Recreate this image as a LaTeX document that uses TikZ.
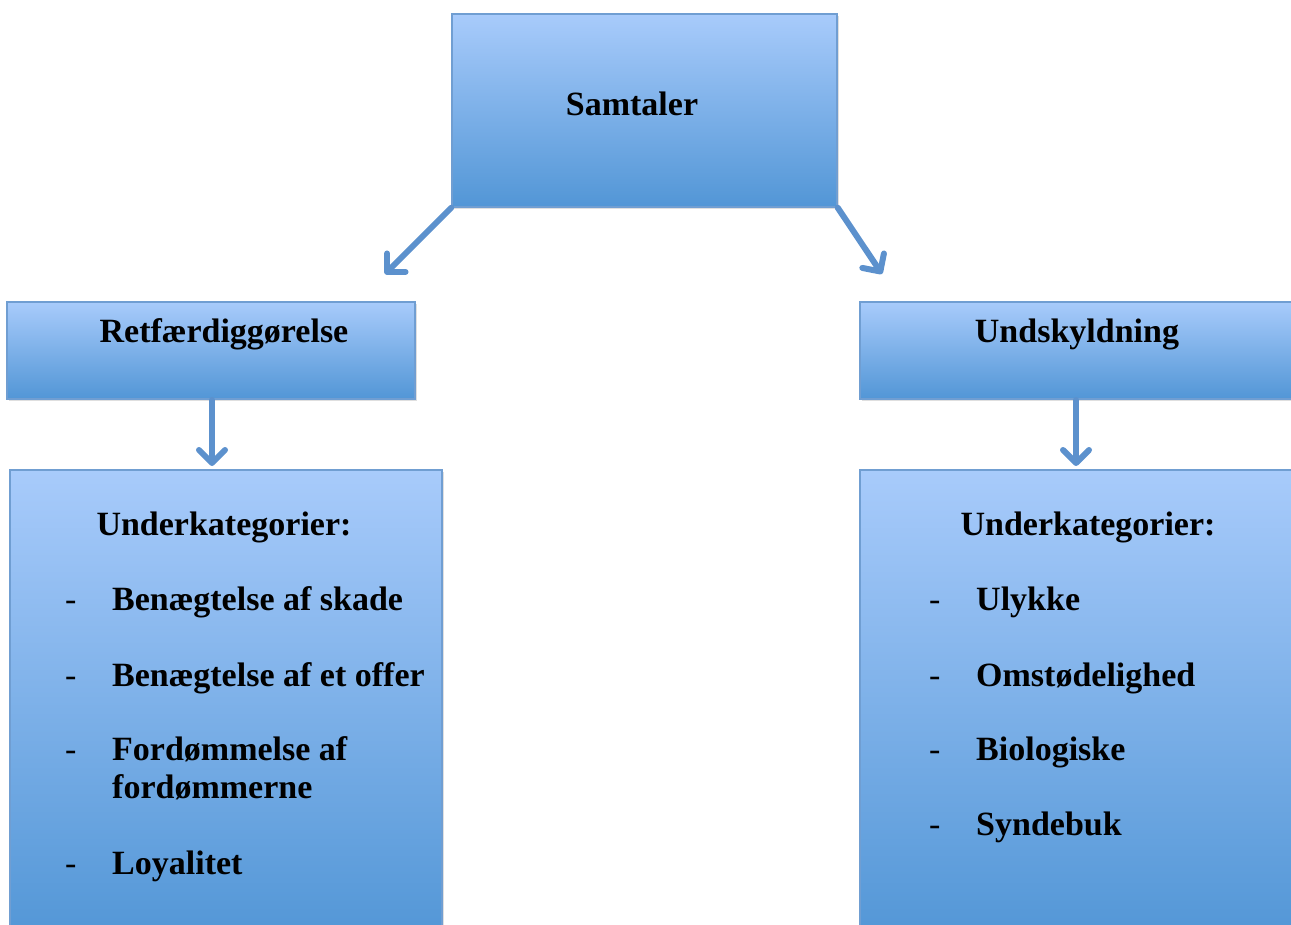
\documentclass[tikz,border=0pt]{standalone}
\usepackage{fontspec}
\setmainfont{Liberation Serif}
\usetikzlibrary{arrows.meta,shadows}
\definecolor{topc}{RGB}{168,203,251}
\definecolor{botc}{RGB}{82,150,214}
\definecolor{edgec}{RGB}{112,158,210}
\definecolor{arrc}{RGB}{92,145,205}
\tikzset{
  box/.style={rectangle, draw=edgec, line width=1.5pt, top color=topc, bottom color=botc,
    inner sep=0pt, drop shadow={opacity=0.25, shadow xshift=1.5pt, shadow yshift=-2pt}},
  lbl/.style={inner sep=0pt, font=\fontsize{34}{40}\selectfont\bfseries},
  dsh/.style={inner sep=0pt, font=\fontsize{34}{40}\selectfont},
  arr/.style={draw=arrc, line width=6pt, line cap=round, -{Straight Barb[length=13pt, width=26pt, line cap=round, round]}},
}
\begin{document}
\begin{tikzpicture}[x=1pt, y=-1pt]
\useasboundingbox (0,0) rectangle (1291,925);
% boxes
\node[box, minimum width=385pt, minimum height=193pt] (sam) at (644.5,110.5) {};
\node[box, minimum width=408pt, minimum height=97pt] (ret) at (211,350.5) {};
\node[box, minimum width=440pt, minimum height=97pt] (und) at (1080,350.5) {};
\node[box, minimum width=432pt, minimum height=470pt] (lowl) at (226,705) {};
\node[box, minimum width=440pt, minimum height=470pt] (lowr) at (1080,705) {};
% titles
\node[lbl, anchor=base] (samt) at (632,116) {Samtaler};
\node[lbl, anchor=base] (rett) at (224,343) {Retfærdiggørelse};
\node[lbl, anchor=base] (undt) at (1077,343) {Undskyldning};
% left list
\node[lbl, anchor=base] (ulh) at (224,535) {Underkategorier:};
\node[dsh, anchor=base west] (ld1) at (65,610) {-};
\node[lbl, anchor=base west] (li1) at (112,610) {Benægtelse af skade};
\node[dsh, anchor=base west] (ld2) at (65,686) {-};
\node[lbl, anchor=base west] (li2) at (112,686) {Benægtelse af et offer};
\node[dsh, anchor=base west] (ld3) at (65,760) {-};
\node[lbl, anchor=base west] (li3) at (112,760) {Fordømmelse af};
\node[lbl, anchor=base west] (li3b) at (112,798) {fordømmerne};
\node[dsh, anchor=base west] (ld4) at (65,874) {-};
\node[lbl, anchor=base west] (li4) at (112,874) {Loyalitet};
% right list
\node[lbl, anchor=base] (urh) at (1088,535) {Underkategorier:};
\node[dsh, anchor=base west] (rd1) at (929,610) {-};
\node[lbl, anchor=base west] (ri1) at (976,610) {Ulykke};
\node[dsh, anchor=base west] (rd2) at (929,686) {-};
\node[lbl, anchor=base west] (ri2) at (976,686) {Omstødelighed};
\node[dsh, anchor=base west] (rd3) at (929,760) {-};
\node[lbl, anchor=base west] (ri3) at (976,760) {Biologiske};
\node[dsh, anchor=base west] (rd4) at (929,835) {-};
\node[lbl, anchor=base west] (ri4) at (976,835) {Syndebuk};
% connectors
\coordinate (e1) at (385,274);
\coordinate (e2) at (882,274);
\draw[arr] (sam.south west) -- (e1);
\draw[arr] (sam.south east) -- (e2);
\draw[arr] (212,400) coordinate (s3) -- (212,466) coordinate (e3);
\draw[arr] (1076,400) coordinate (s4) -- (1076,466) coordinate (e4);
\end{tikzpicture}
\end{document}
